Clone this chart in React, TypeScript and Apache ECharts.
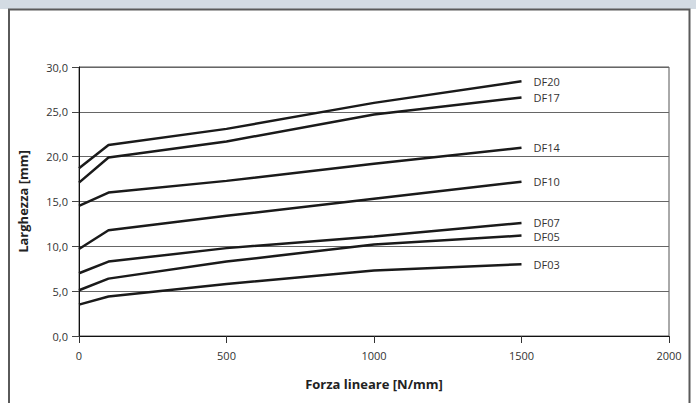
import React, { useEffect, useRef } from "react";
import * as echarts from "echarts";

const forceValues = [0, 100, 500, 1000, 1500];
const seriesNames = ["DF20", "DF17", "DF14", "DF10", "DF07", "DF05", "DF03"];
const df20 = [18.7, 21.3, 23.1, 26.0, 28.4];
const df17 = [17.1, 19.9, 21.7, 24.7, 26.6];
const df14 = [14.5, 16.0, 17.3, 19.2, 21.0];
const df10 = [9.7, 11.8, 13.4, 15.3, 17.2];
const df07 = [7.0, 8.3, 9.8, 11.1, 12.6];
const df05 = [5.1, 6.4, 8.3, 10.2, 11.2];
const df03 = [3.5, 4.4, 5.8, 7.3, 8.0];
const seriesValues = [df20, df17, df14, df10, df07, df05, df03];
const labelShift = [0, 0, 0, 0, -1, 1, 0];

const yTitle = "Larghezza [mm]";
const xTitle = "Forza lineare [N/mm]";

const FONT = "'Open Sans', 'Noto Sans', sans-serif";
const TICK_FONT = "'Open Sans', 'Noto Sans', sans-serif";

export default function App() {
  const ref = useRef<HTMLDivElement>(null);
  useEffect(() => {
    if (!ref.current) return;
    const chart = echarts.init(ref.current, null, { renderer: "svg" });
    chart.setOption({
      animation: false,
      backgroundColor: "#ffffff",
      graphic: [
        { type: "rect", shape: { x: 0, y: 0, width: 696, height: 9 }, style: { fill: "#d3dbe3" }, silent: true },
        {
          type: "polyline",
          shape: { points: [[9, 403], [9, 9.5], [689.5, 9.5], [689.5, 403]] },
          style: { stroke: "#5a5a5a", lineWidth: 2, fill: "none" },
          silent: true,
        },
      ],
      grid: {
        left: 79,
        right: 27,
        top: 67,
        bottom: 67,
        show: true,
        borderColor: "#555",
        borderWidth: 1,
        backgroundColor: "transparent",
      },
      xAxis: {
        type: "value",
        min: 0,
        max: 2000,
        interval: 500,
        name: xTitle,
        nameLocation: "middle",
        nameGap: 41,
        nameTextStyle: { fontFamily: FONT, fontWeight: "bold", fontSize: 13, color: "#222" },
        axisLine: { show: true, onZero: false, lineStyle: { color: "#111", width: 1 } },
        axisTick: { show: true, inside: false, length: 7, lineStyle: { color: "#333" } },
        axisLabel: {
          margin: 14,
          fontFamily: TICK_FONT,
          fontSize: 11,
          color: "#333",
          formatter: (v: number) => String(v),
        },
        splitLine: { show: false },
      },
      yAxis: {
        type: "value",
        min: 0,
        max: 30,
        interval: 5,
        name: yTitle,
        nameLocation: "middle",
        nameGap: 50,
        nameRotate: 90,
        nameTextStyle: { fontFamily: FONT, fontWeight: "bold", fontSize: 13, color: "#222" },
        axisLine: { show: true, lineStyle: { color: "#111", width: 1 } },
        axisTick: { show: true, inside: false, length: 7, lineStyle: { color: "#444" } },
        axisLabel: {
          margin: 11,
          fontFamily: TICK_FONT,
          fontSize: 11,
          color: "#333",
          formatter: (v: number) => v.toFixed(1).replace(".", ","),
        },
        splitLine: { show: true, lineStyle: { color: "#666", width: 1 } },
      },
      series: seriesNames.map((name, i) => ({
        name,
        type: "line",
        data: forceValues.map((x, j) => [x, seriesValues[i][j]]),
        showSymbol: false,
        symbol: "none",
        lineStyle: { color: "#1a1a1a", width: 2.5 },
        endLabel: {
          show: true,
          formatter: name,
          distance: 12,
          offset: [0, labelShift[i]],
          fontFamily: TICK_FONT,
          fontSize: 11,
          lineHeight: 11,
          color: "#333",
        },
        emphasis: { disabled: true },
      })),
    });
    return () => chart.dispose();
  }, []);
  return (
    <div
      ref={ref}
      style={{ position: "fixed", left: 0, top: 0, width: 696, height: 403 }}
    />
  );
}
